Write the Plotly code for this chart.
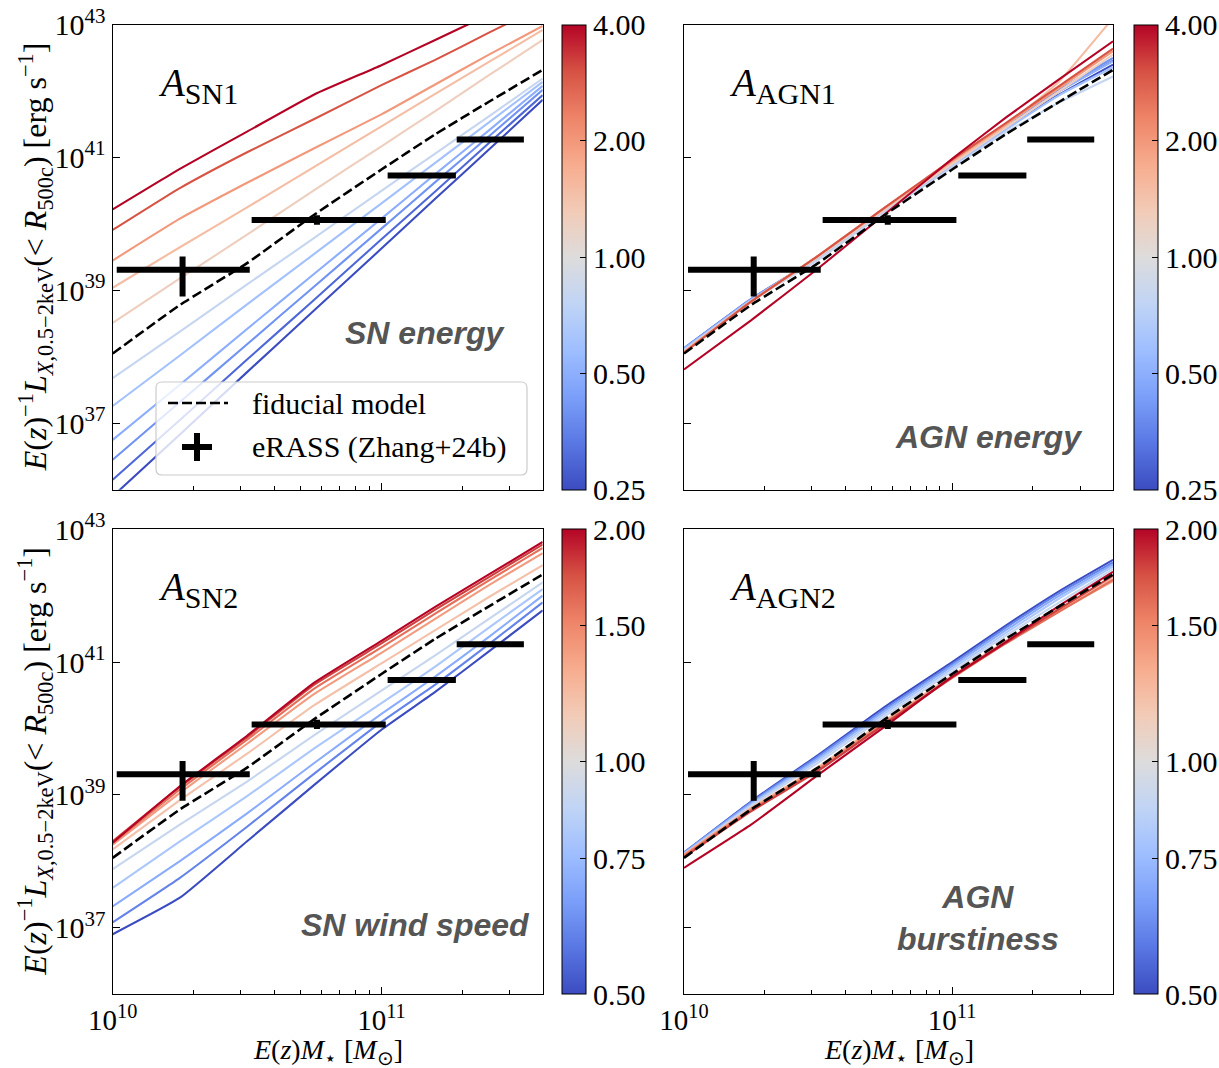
import numpy as np
import plotly.graph_objects as go
from plotly.colors import sample_colorscale

# ---------------- data (log10 values) ----------------
LOGM = [10.0, 10.25, 10.5, 10.75, 11.0, 11.2, 11.4, 11.6]
FIDUCIAL = [38.05, 38.78, 39.41, 40.14, 40.82, 41.35, 41.84, 42.32]

TOP_PARAMS = [0.25, 0.3, 0.4, 0.5, 0.6, 0.8, 1.25, 1.5, 2.0, 3.0, 4.0]
BOT_PARAMS = [0.5, 0.6, 0.7, 0.8, 0.9, 1.2, 1.4, 1.6, 1.8, 2.0]

SN1_LOGL = [
    [35.90, 36.83, 37.77, 38.70, 39.63, 40.38, 41.12, 41.87],
    [36.15, 37.05, 37.96, 38.86, 39.77, 40.49, 41.22, 41.94],
    [36.45, 37.32, 38.19, 39.06, 39.93, 40.63, 41.32, 42.02],
    [36.75, 37.58, 38.42, 39.25, 40.08, 40.75, 41.41, 42.08],
    [37.26, 38.02, 38.79, 39.55, 40.31, 40.92, 41.53, 42.14],
    [37.68, 38.38, 39.09, 39.79, 40.50, 41.06, 41.62, 42.19],
    [38.51, 39.18, 39.84, 40.51, 41.17, 41.70, 42.24, 42.77],
    [39.04, 39.65, 40.25, 40.86, 41.47, 41.96, 42.44, 42.92],
    [39.45, 40.08, 40.62, 41.14, 41.65, 42.10, 42.55, 42.98],
    [39.91, 40.54, 41.08, 41.58, 42.09, 42.47, 42.88, 43.28],
    [40.22, 40.83, 41.39, 41.95, 42.39, 42.77, 43.15, 43.50],
]
AGN1_LOGL = [
    [38.12, 38.86, 39.48, 40.20, 40.88, 41.43, 41.95, 42.40],
    [38.13, 38.87, 39.49, 40.21, 40.89, 41.45, 42.00, 42.46],
    [38.13, 38.87, 39.50, 40.22, 40.90, 41.46, 42.02, 42.50],
    [38.12, 38.86, 39.49, 40.21, 40.90, 41.45, 42.00, 42.45],
    [38.11, 38.85, 39.48, 40.20, 40.88, 41.42, 41.94, 42.36],
    [38.10, 38.84, 39.46, 40.18, 40.85, 41.38, 41.83, 42.22],
    [38.08, 38.83, 39.50, 40.22, 40.90, 41.45, 42.00, 42.55],
    [38.08, 38.84, 39.52, 40.24, 40.93, 41.48, 42.15, 43.10],
    [38.07, 38.83, 39.52, 40.25, 40.95, 41.50, 42.05, 42.60],
    [38.06, 38.83, 39.52, 40.25, 40.97, 41.52, 42.08, 42.64],
    [37.81, 38.55, 39.33, 40.15, 40.98, 41.60, 42.18, 42.75],
]
SN2_LOGL = [
    [36.90, 37.45, 38.30, 39.15, 39.98, 40.55, 41.16, 41.78],
    [37.08, 37.75, 38.52, 39.32, 40.10, 40.66, 41.27, 41.90],
    [37.32, 38.00, 38.72, 39.48, 40.22, 40.78, 41.38, 42.00],
    [37.60, 38.30, 38.98, 39.70, 40.38, 40.93, 41.52, 42.10],
    [37.88, 38.55, 39.20, 39.90, 40.57, 41.10, 41.65, 42.20],
    [38.18, 38.92, 39.62, 40.35, 40.98, 41.48, 41.98, 42.46],
    [38.25, 39.03, 39.77, 40.52, 41.14, 41.65, 42.16, 42.64],
    [38.27, 39.08, 39.83, 40.60, 41.22, 41.73, 42.23, 42.72],
    [38.30, 39.12, 39.87, 40.66, 41.28, 41.79, 42.28, 42.77],
    [38.28, 39.13, 39.89, 40.69, 41.32, 41.83, 42.32, 42.81],
]
AGN2_LOGL = [
    [38.13, 38.90, 39.60, 40.33, 41.00, 41.55, 42.07, 42.54],
    [38.13, 38.89, 39.58, 40.30, 40.97, 41.52, 42.04, 42.50],
    [38.12, 38.87, 39.55, 40.27, 40.94, 41.48, 42.00, 42.47],
    [38.11, 38.85, 39.52, 40.23, 40.90, 41.44, 41.96, 42.44],
    [38.10, 38.83, 39.48, 40.19, 40.86, 41.40, 41.90, 42.40],
    [38.10, 38.80, 39.42, 40.12, 40.80, 41.32, 41.80, 42.26],
    [38.10, 38.79, 39.40, 40.10, 40.78, 41.30, 41.77, 42.22],
    [38.08, 38.77, 39.38, 40.08, 40.76, 41.28, 41.76, 42.24],
    [38.06, 38.75, 39.36, 40.07, 40.77, 41.29, 41.80, 42.30],
    [37.90, 38.55, 39.30, 40.03, 40.78, 41.30, 41.85, 42.36],
]

ERASS_LOGM = [10.26, 10.76, 11.15, 11.405]
ERASS_LOGM_LO = [10.015, 10.517, 11.023, 11.28]
ERASS_LOGM_HI = [10.51, 11.016, 11.277, 11.53]
ERASS_LOGL = [39.31, 40.06, 40.73, 41.27]
ERASS_ERR_UP = [0.20, 0.07, 0.0, 0.0]
ERASS_ERR_DN = [0.40, 0.07, 0.0, 0.0]

TOP_TICKS = [0.25, 0.5, 1.0, 2.0, 4.0]
BOT_TICKS = [0.5, 0.75, 1.0, 1.5, 2.0]

PANEL_LABELS = ["SN1", "AGN1", "SN2", "AGN2"]

COOLWARM = [[0.0, '#3b4cc0'], [0.1, '#5977e3'], [0.2, '#7b9ff9'], [0.3, '#9ebeff'],
            [0.4, '#c0d4f5'], [0.5, '#dddcdc'], [0.6, '#f2cbb7'], [0.7, '#f7ac8e'],
            [0.8, '#ee8468'], [0.9, '#d65244'], [1.0, '#b40426']]

SERIF = "Liberation Serif"
SANS = "Liberation Sans"

# ---------------- layout geometry ----------------
W, H = 1219, 1068
px = lambda v: v / W
py = lambda v: 1 - v / H
XL = [px(112.7), px(542.7)]
XR = [px(684), px(1113)]
YT = [py(489.7), py(24.7)]
YB = [py(994), py(529.3)]
CBX = [px(562), px(1134)]

fig = go.Figure()
xm = [10 ** v for v in LOGM]

panels = [
    (SN1_LOGL, TOP_PARAMS, 'x', 'y', -2, 2, TOP_TICKS, CBX[0], YT),
    (AGN1_LOGL, TOP_PARAMS, 'x2', 'y2', -2, 2, TOP_TICKS, CBX[1], YT),
    (SN2_LOGL, BOT_PARAMS, 'x3', 'y3', -1, 1, BOT_TICKS, CBX[0], YB),
    (AGN2_LOGL, BOT_PARAMS, 'x4', 'y4', -1, 1, BOT_TICKS, CBX[1], YB),
]

for curves, params, xa, ya, cmin, cmax, cticks, cbx, ydom in panels:
    cvals = [np.log2(p) for p in params]
    fr = [(c - cmin) / (cmax - cmin) for c in cvals]
    cols = sample_colorscale(COOLWARM, fr)
    for curve, col in zip(curves, cols):
        fig.add_trace(go.Scatter(x=xm, y=[10 ** v for v in curve], mode='lines',
                                 line=dict(color=col, width=2.1, shape='spline', smoothing=0.4),
                                 xaxis=xa, yaxis=ya, showlegend=False, hoverinfo='skip'))
    # colorbar carrier (invisible markers at curve starts)
    fig.add_trace(go.Scatter(
        x=[xm[0]] * len(curves), y=[10 ** c[0] for c in curves], mode='markers',
        marker=dict(size=1, opacity=0, color=cvals, colorscale=COOLWARM, cmin=cmin, cmax=cmax,
                    showscale=True,
                    colorbar=dict(x=cbx, xanchor='left', xpad=0, ypad=0,
                                  y=(ydom[0] + ydom[1]) / 2, yanchor='middle',
                                  len=ydom[1] - ydom[0], lenmode='fraction',
                                  thickness=24, outlinewidth=1, outlinecolor='black',
                                  tickvals=[np.log2(t) for t in cticks],
                                  ticktext=['%.2f' % t for t in cticks],
                                  ticks='inside', ticklen=6, tickcolor='black',
                                  tickfont=dict(family=SERIF, size=30, color='black'))),
        xaxis=xa, yaxis=ya, showlegend=False, hoverinfo='skip'))
    # fiducial
    fig.add_trace(go.Scatter(x=xm, y=[10 ** v for v in FIDUCIAL], mode='lines',
                             line=dict(color='black', width=2.6, dash='10px,4px',
                                       shape='spline', smoothing=0.4),
                             xaxis=xa, yaxis=ya, showlegend=False, hoverinfo='skip'))
    # eRASS data
    ex = [10 ** v for v in ERASS_LOGM]
    ey = [10 ** v for v in ERASS_LOGL]
    fig.add_trace(go.Scatter(
        x=ex, y=ey, mode='markers', marker=dict(size=1, color='black'),
        error_x=dict(type='data', symmetric=False,
                     array=[10 ** h - 10 ** c for h, c in zip(ERASS_LOGM_HI, ERASS_LOGM)],
                     arrayminus=[10 ** c - 10 ** l for l, c in zip(ERASS_LOGM_LO, ERASS_LOGM)],
                     thickness=6, width=0, color='black'),
        error_y=dict(type='data', symmetric=False,
                     array=[10 ** (c + u) - 10 ** c for c, u in zip(ERASS_LOGL, ERASS_ERR_UP)],
                     arrayminus=[10 ** c - 10 ** (c - d) for c, d in zip(ERASS_LOGL, ERASS_ERR_DN)],
                     thickness=6, width=0, color='black'),
        xaxis=xa, yaxis=ya, showlegend=False, hoverinfo='skip'))

xminor = [k * 1e10 for k in range(2, 10)] + [2e11, 3e11]
ytv = [1e37, 1e39, 1e41, 1e43]
ytt = ['10<sup>37</sup>', '10<sup>39</sup>', '10<sup>41</sup>', '10<sup>43</sup>']


def xax(dom, anchor, labels):
    return dict(domain=dom, anchor=anchor, type='log', range=[10, 11.6],
                showline=True, linecolor='black', linewidth=1.3, mirror=True,
                showgrid=False, zeroline=False,
                tickvals=[1e10, 1e11], ticktext=['10<sup>10</sup>', '10<sup>11</sup>'],
                showticklabels=labels, ticks='inside', ticklen=7, tickcolor='black',
                tickfont=dict(family=SERIF, size=29, color='black'),
                minor=dict(tickvals=xminor, ticks='inside', ticklen=4, tickcolor='black'))


def yax(dom, anchor, labels):
    return dict(domain=dom, anchor=anchor, type='log', range=[36, 43],
                showline=True, linecolor='black', linewidth=1.3, mirror=True,
                showgrid=False, zeroline=False, tickvals=ytv, ticktext=ytt,
                showticklabels=labels, ticks='inside', ticklen=7, tickcolor='black',
                tickfont=dict(family=SERIF, size=30, color='black'))


fig.update_layout(
    width=W, height=H, margin=dict(l=0, r=0, t=0, b=0, autoexpand=False),
    paper_bgcolor='white', plot_bgcolor='white', showlegend=False,
    xaxis=xax(XL, 'y', False), yaxis=yax(YT, 'x', True),
    xaxis2=xax(XR, 'y2', False), yaxis2=yax(YT, 'x2', False),
    xaxis3=xax(XL, 'y3', True), yaxis3=yax(YB, 'x3', True),
    xaxis4=xax(XR, 'y4', True), yaxis4=yax(YB, 'x4', False),
)

ann = []
# panel labels
for lab, xa, ya in zip(PANEL_LABELS, ['x', 'x2', 'x3', 'x4'], ['y', 'y2', 'y3', 'y4']):
    ann.append(dict(xref=xa + ' domain', yref=ya + ' domain', x=0.1, y=0.87,
                    xanchor='left', yanchor='middle', showarrow=False,
                    text='<i>A</i><sub><span style="font-size:30px">%s</span></sub>' % lab,
                    font=dict(family=SERIF, size=39, color='black')))
# descriptive labels
desc = [('x', 'y', 0.918, 0.337, 'right', '<b><i>SN energy</i></b>'),
        ('x2', 'y2', 0.935, 0.113, 'right', '<b><i>AGN energy</i></b>'),
        ('x3', 'y3', 0.975, 0.148, 'right', '<b><i>SN wind speed</i></b>'),
        ('x4', 'y4', 0.685, 0.164, 'center', '<b><i>AGN<br>burstiness</i></b>')]
for xa, ya, x, y, xan, t in desc:
    ann.append(dict(xref=xa + ' domain', yref=ya + ' domain', x=x, y=y, xanchor=xan,
                    yanchor='middle', showarrow=False, text=t, align='center',
                    font=dict(family=SANS, size=32, color='#555555')))
# axis titles
ylab = ('<i>E</i>(<i>z</i>)<sup>−1</sup><i>L</i><sub><i>X</i>,0.5−2keV</sub>'
        '(&lt; <i>R</i><sub>500c</sub>) [erg s<sup>−1</sup>]')
xlab = '<i>E</i>(<i>z</i>)<i>M</i><sub>⋆</sub> [<i>M</i><sub>⊙</sub>]'
for yc in [(YT[0] + YT[1]) / 2, (YB[0] + YB[1]) / 2]:
    ann.append(dict(xref='paper', yref='paper', x=px(35), y=yc, xanchor='center',
                    yanchor='middle', textangle=-90, showarrow=False, text=ylab,
                    font=dict(family=SERIF, size=32, color='black')))
for xc in [(XL[0] + XL[1]) / 2, (XR[0] + XR[1]) / 2]:
    ann.append(dict(xref='paper', yref='paper', x=xc, y=py(1051), xanchor='center',
                    yanchor='middle', showarrow=False, text=xlab,
                    font=dict(family=SERIF, size=28, color='black')))
# legend (drawn manually in top-left panel)
ann.append(dict(xref='paper', yref='paper', x=px(250), y=py(403), xanchor='left',
                yanchor='middle', showarrow=False, text='fiducial model',
                font=dict(family=SERIF, size=30, color='black')))
ann.append(dict(xref='paper', yref='paper', x=px(250), y=py(447), xanchor='left',
                yanchor='middle', showarrow=False, text='eRASS (Zhang+24b)',
                font=dict(family=SERIF, size=30, color='black')))

x0, x1, y0, y1, r = 156, 527, 382, 475, 6
path = (f"M {px(x0 + r)} {py(y0)} L {px(x1 - r)} {py(y0)} Q {px(x1)} {py(y0)} {px(x1)} {py(y0 + r)} "
        f"L {px(x1)} {py(y1 - r)} Q {px(x1)} {py(y1)} {px(x1 - r)} {py(y1)} "
        f"L {px(x0 + r)} {py(y1)} Q {px(x0)} {py(y1)} {px(x0)} {py(y1 - r)} "
        f"L {px(x0)} {py(y0 + r)} Q {px(x0)} {py(y0)} {px(x0 + r)} {py(y0)} Z")
shapes = [
    dict(type='path', xref='paper', yref='paper', path=path,
         fillcolor='rgba(255,255,255,0.8)', line=dict(color='#cccccc', width=1.2)),
    dict(type='line', xref='paper', yref='paper', x0=px(168), x1=px(228), y0=py(403), y1=py(403),
         line=dict(color='black', width=2.6, dash='10px,4px')),
    dict(type='line', xref='paper', yref='paper', x0=px(182), x1=px(212), y0=py(447), y1=py(447),
         line=dict(color='black', width=6)),
    dict(type='line', xref='paper', yref='paper', x0=px(197), x1=px(197), y0=py(433), y1=py(461),
         line=dict(color='black', width=6)),
]
fig.update_layout(annotations=ann, shapes=shapes)

fig.write_html("out.html")
